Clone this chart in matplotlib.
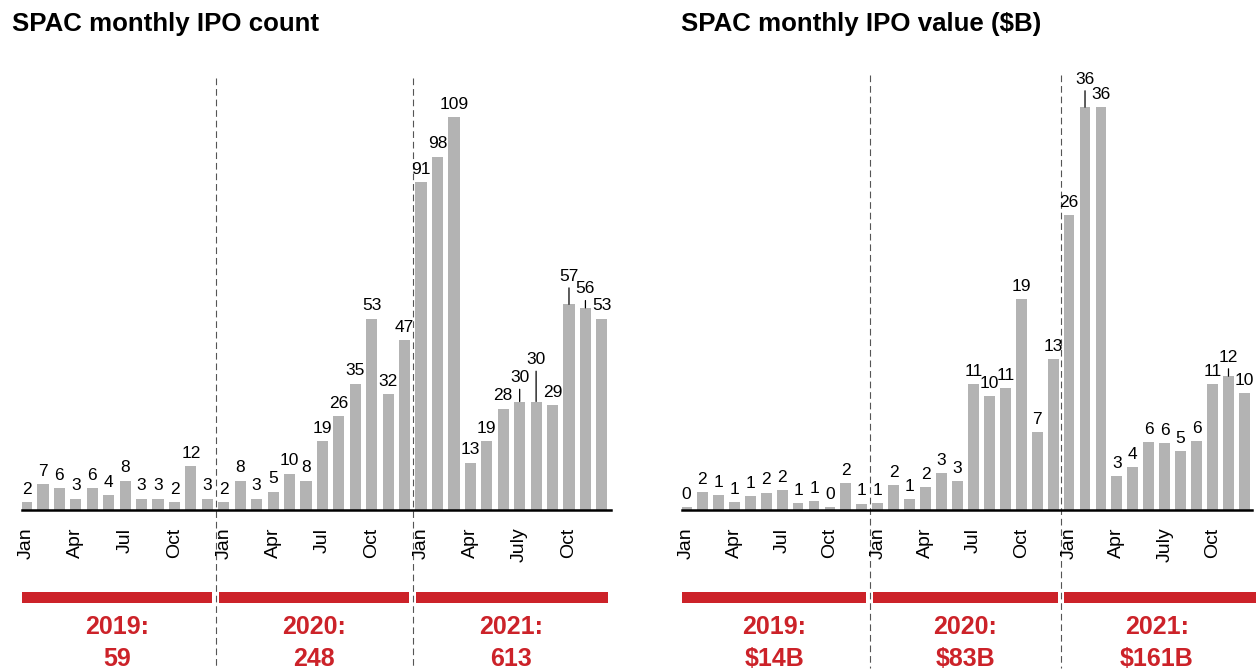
import matplotlib
matplotlib.use("Agg")
import matplotlib.pyplot as plt
from matplotlib.patches import Rectangle

plt.rcParams["font.family"] = ["Liberation Sans", "DejaVu Sans"]

# --- data -------------------------------------------------------------
years = ["2019", "2020", "2021"]
count_2019 = [2, 7, 6, 3, 6, 4, 8, 3, 3, 2, 12, 3]
count_2020 = [2, 8, 3, 5, 10, 8, 19, 26, 35, 53, 32, 47]
count_2021 = [91, 98, 109, 13, 19, 28, 30, 30, 29, 57, 56, 53]
count_totals = ["59", "248", "613"]

value_2019 = [0.2, 1.55, 1.3, 0.65, 1.2, 1.52, 1.73, 0.57, 0.75, 0.2, 2.36, 0.52]
value_2020 = [0.57, 2.18, 0.93, 2.0, 3.26, 2.55, 11.23, 10.15, 10.87, 18.85, 6.93, 13.47]
value_2021 = [26.4, 36.05, 36.05, 2.99, 3.82, 6.03, 5.94, 5.23, 6.12, 11.26, 11.95, 10.45]
value_totals = ["\\$14B", "\\$83B", "\\$161B"]

tick_months = [["Jan", "Apr", "Jul", "Oct"],
               ["Jan", "Apr", "Jul", "Oct"],
               ["Jan", "Apr", "July", "Oct"]]

BAR = "#b3b3b3"
RED = "#cc2229"
W, H = 1256, 671


def draw_panel(fig, rect, values, totals, ylim, xlim, red_end, leaders, dash_top):
    ax = fig.add_axes(rect)
    x = list(range(len(values)))
    ax.bar(x, values, width=0.68, color=BAR, zorder=2)
    ax.set_xlim(*xlim)
    ax.set_ylim(0, ylim)
    for s in ["top", "right", "left"]:
        ax.spines[s].set_visible(False)
    ax.spines["bottom"].set_linewidth(1.8)
    ax.spines["bottom"].set_zorder(3)
    ax.set_yticks([])

    # value labels
    for i, v in enumerate(values):
        lab = f"{v:.0f}"
        extra = leaders.get(i)
        if extra is None:
            ax.annotate(lab, (i, v), xytext=(0, 3.8), textcoords="offset points",
                        ha="center", va="bottom", fontsize=12.5)
        else:
            ax.annotate(lab, (i, v), xytext=(0, 3.8 + extra), textcoords="offset points",
                        ha="center", va="bottom", fontsize=12.5,
                        arrowprops=dict(arrowstyle="-", color="black", lw=0.9,
                                        relpos=(0.5, 0), shrinkA=1, shrinkB=0))

    # month ticks
    ticks, labels = [], []
    for k, months in enumerate(tick_months):
        for j, m in enumerate(months):
            ticks.append(12 * k + 3 * j)
            labels.append(m)
    ax.set_xticks(ticks)
    ax.set_xticklabels(labels, rotation=90, fontsize=14)
    ax.tick_params(axis="x", length=0, pad=13)

    trans = ax.get_xaxis_transform()
    # year separators
    for xs in [11.5, 23.5]:
        ax.plot([xs, xs], [dash_top, -0.352], transform=trans, clip_on=False,
                color="#555555", lw=0.8, ls=(0, (6, 3.5)), zorder=1)

    # red year bars and totals
    for k, (yr, tot) in enumerate(zip(years, totals)):
        x0 = xlim[0] if k == 0 else 12 * k - 0.32
        x1 = red_end if k == 2 else 12 * k + 11.28
        ax.add_patch(Rectangle((x0, -0.208), x1 - x0, 0.0245, transform=trans,
                               color=RED, clip_on=False, lw=0))
        xc = 12 * k + 5.5
        ax.text(xc, -0.2776, yr + ":", transform=trans, ha="center", va="baseline",
                fontsize=18, fontweight="bold", color=RED)
        ax.text(xc, -0.3475, tot, transform=trans, ha="center", va="baseline",
                fontsize=18, fontweight="bold", color=RED)
    return ax


fig = plt.figure(figsize=(W / 100, H / 100), dpi=100)

bottom = (H - 509.5) / H
height = 449.5 / H

# left panel: IPO count
counts = count_2019 + count_2020 + count_2021
draw_panel(fig, [21.6 / W, bottom, 589.3 / W, height], counts, count_totals,
           449.5 / 3.6, (-0.3, 35.55), 35.4, {30: 8, 31: 21, 33: 11, 34: 4.5}, 0.96)

# right panel: IPO value
vals = value_2019 + value_2020 + value_2021
draw_panel(fig, [681.7 / W, bottom, 570.7 / W, height], vals, value_totals,
           449.5 / 11.16, (-0.3, 35.5), 35.75, {25: 11, 34: 4.5}, 0.967)

fig.text(12 / W, 1 - 31 / H, "SPAC monthly IPO count", fontsize=18.6, fontweight="bold",
         va="baseline", ha="left")
fig.text(681 / W, 1 - 31 / H, "SPAC monthly IPO value (\\$B)", fontsize=18.6,
         fontweight="bold", va="baseline", ha="left")

fig.savefig("out.png", dpi=100)
